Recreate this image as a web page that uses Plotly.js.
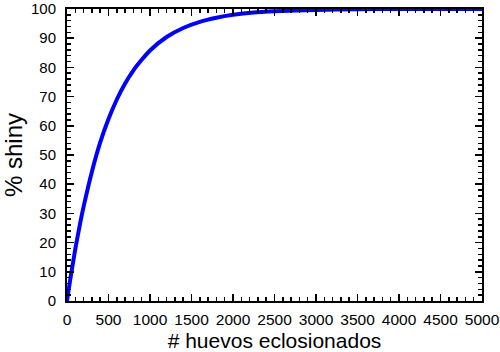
<!DOCTYPE html>
<html><head><meta charset="utf-8">
<script src="https://cdn.plot.ly/plotly-3.0.1.min.js"></script>
<style>html,body{margin:0;padding:0;background:#fff}#c{width:500px;height:352px}</style>
</head><body><div id="c"></div>
<script>
const huevos = [0, 25, 50, 100, 150, 200, 300, 400, 500, 600, 700, 800, 900, 1000, 1200, 1400, 1600, 1800, 2000, 2250, 2500, 3000, 3500, 4000, 4500, 5000];
const shiny  = [0, 4.8, 9.3, 17.8, 25.4, 32.3, 44.3, 54.3, 62.3, 69.0, 74.5, 79.0, 82.6, 85.8, 90.4, 93.5, 95.6, 97.0, 98.0, 98.8, 99.2, 99.7, 99.9, 100, 100, 100];
const xTicks = [0, 500, 1000, 1500, 2000, 2500, 3000, 3500, 4000, 4500, 5000];
const yTicks = [0, 10, 20, 30, 40, 50, 60, 70, 80, 90, 100];

const font = {family: 'Liberation Sans, Arial, sans-serif', color: '#000'};
Plotly.newPlot('c', [{
  x: huevos, y: shiny, type: 'scatter', mode: 'lines',
  line: {color: '#0000ff', width: 4, shape: 'spline', smoothing: 0.6},
  hoverinfo: 'none'
}], {
  width: 500, height: 352,
  margin: {l: 67, r: 18, t: 9, b: 51},
  paper_bgcolor: '#fff', plot_bgcolor: '#fff',
  showlegend: false,
  xaxis: {
    range: [0, 5000], tickvals: xTicks, ticktext: xTicks.map(String),
    ticks: 'inside', ticklen: 7, tickwidth: 1.5, tickcolor: '#000',
    minor: {dtick: 100, ticks: 'inside', ticklen: 4, tickwidth: 1.5, tickcolor: '#000', showgrid: false},
    showgrid: false, zeroline: false, showline: true, linecolor: '#000', linewidth: 2, mirror: 'ticks',
    tickfont: Object.assign({size: 15.5}, font), ticklabelstandoff: 3, ticklabeloverflow: 'allow',
    title: {text: '# huevos eclosionados', font: Object.assign({size: 21}, font), standoff: 13}
  },
  yaxis: {
    range: [0, 100.001], tickvals: yTicks, ticktext: yTicks.map(String),
    ticks: 'inside', ticklen: 7, tickwidth: 1.5, tickcolor: '#000',
    minor: {dtick: 2, ticks: 'inside', ticklen: 4, tickwidth: 1.5, tickcolor: '#000', showgrid: false},
    showgrid: false, zeroline: false, showline: true, linecolor: '#000', linewidth: 2, mirror: 'ticks',
    tickfont: Object.assign({size: 15}, font), ticklabelstandoff: 6, ticklabeloverflow: 'allow',
    title: {text: '% shiny', font: Object.assign({size: 24}, font), standoff: 6}
  }
}, {staticPlot: true});
</script></body></html>
